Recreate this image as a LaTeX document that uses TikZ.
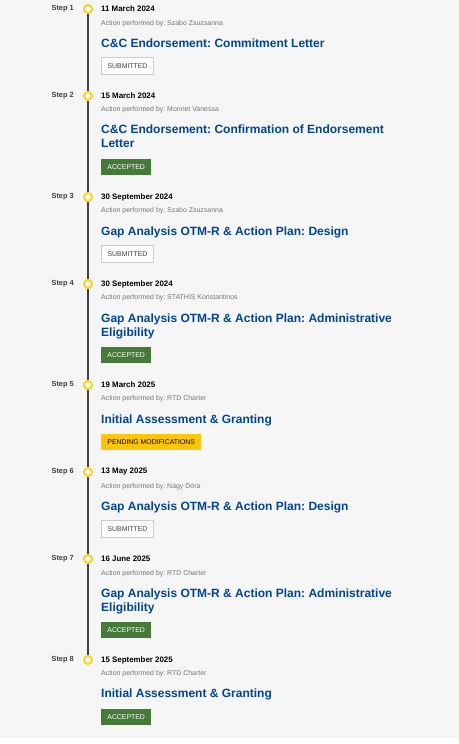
\documentclass[tikz,border=0pt]{standalone}
\usepackage{fontspec}
\setmainfont{Liberation Sans}
\usetikzlibrary{positioning,backgrounds}
\frenchspacing

\definecolor{pagebg}{HTML}{F6F6F6}
\definecolor{linegray}{HTML}{404040}
\definecolor{ringyellow}{HTML}{FFD21F}
\definecolor{eublue}{HTML}{004494}
\definecolor{okgreen}{HTML}{467A39}
\definecolor{pendyellow}{HTML}{FFC60A}
\definecolor{actgray}{HTML}{767676}

\begin{document}
\begin{tikzpicture}[x=1pt, y=-1pt,
  steplabel/.style={anchor=east, inner sep=0pt, text=linegray, font=\fontsize{7.4}{9}\selectfont\bfseries},
  dot/.style={circle, draw=ringyellow, line width=2pt, fill=white, minimum size=8pt, inner sep=0pt},
  date/.style={anchor=west, inner sep=0pt, font=\fontsize{7.9}{9}\selectfont\bfseries},
  actor/.style={anchor=west, inner sep=0pt, text=actgray, font=\fontsize{6.95}{8}\selectfont},
  title/.style={anchor=west, inner sep=0pt, align=left, text=eublue, text height=8.6pt, text depth=0pt, font=\fontsize{12}{14}\selectfont\bfseries},
  badge/.style={anchor=west, minimum height=16.5pt, inner xsep=6.2pt, inner ysep=0pt, font=\fontsize{6.9}{8}\selectfont},
  submitted/.style={badge, draw={rgb,255:red,204;green,204;blue,204}, line width=0.8pt, fill=white, text=linegray},
  accepted/.style={badge, fill=okgreen, text=white},
  pending/.style={badge, fill=pendyellow, text=black},
  timeline/.style={linegray, line width=2.6pt}
]
\useasboundingbox (0,0) rectangle (458,744);

% Step 1
\node[steplabel] (label1) at (74,9) {Step 1};
\node[dot] (dot1) at (88,9) {};
\node[date] (date1) at (101,9) {11 March 2024};
\node[actor] (actor1) at (101,24) {Action performed by: Szabo Zsuzsanna};
\node[title] (title1) at (101,43) {C\&C Endorsement: Commitment Letter};
\node[submitted] (badge1) at (101,66) {SUBMITTED};

% Step 2
\node[steplabel] (label2) at (74,96) {Step 2};
\node[dot] (dot2) at (88,96) {};
\node[date] (date2) at (101,96) {15 March 2024};
\node[actor] (actor2) at (101,110) {Action performed by: Monnet Vanessa};
\node[title, text height=22.6pt] (title2) at (101,136) {C\&C Endorsement: Confirmation of Endorsement\\Letter};
\node[accepted] (badge2) at (101,167) {ACCEPTED};

% Step 3
\node[steplabel] (label3) at (74,197) {Step 3};
\node[dot] (dot3) at (88,197) {};
\node[date] (date3) at (101,197) {30 September 2024};
\node[actor] (actor3) at (101,211) {Action performed by: Szabo Zsuzsanna};
\node[title] (title3) at (101,231) {Gap Analysis OTM-R \& Action Plan: Design};
\node[submitted] (badge3) at (101,254) {SUBMITTED};

% Step 4
\node[steplabel] (label4) at (74,284) {Step 4};
\node[dot] (dot4) at (88,284) {};
\node[date] (date4) at (101,284) {30 September 2024};
\node[actor] (actor4) at (101,298) {Action performed by: STATHIS Konstantinos};
\node[title, text height=22.6pt] (title4) at (101,325) {Gap Analysis OTM-R \& Action Plan: Administrative\\Eligibility};
\node[accepted] (badge4) at (101,355) {ACCEPTED};

% Step 5
\node[steplabel] (label5) at (74,385) {Step 5};
\node[dot] (dot5) at (88,385) {};
\node[date] (date5) at (101,385) {19 March 2025};
\node[actor] (actor5) at (101,399) {Action performed by: RTD Charter};
\node[title] (title5) at (101,419) {Initial Assessment \& Granting};
\node[pending] (badge5) at (101,442) {PENDING MODIFICATIONS};

% Step 6
\node[steplabel] (label6) at (74,472) {Step 6};
\node[dot] (dot6) at (88,472) {};
\node[date] (date6) at (101,472) {13 May 2025};
\node[actor] (actor6) at (101,487) {Action performed by: Nagy Dóra};
\node[title] (title6) at (101,506) {Gap Analysis OTM-R \& Action Plan: Design};
\node[submitted] (badge6) at (101,529) {SUBMITTED};

% Step 7
\node[steplabel] (label7) at (74,559) {Step 7};
\node[dot] (dot7) at (88,559) {};
\node[date] (date7) at (101,559) {16 June 2025};
\node[actor] (actor7) at (101,574) {Action performed by: RTD Charter};
\node[title, text height=22.6pt] (title7) at (101,600) {Gap Analysis OTM-R \& Action Plan: Administrative\\Eligibility};
\node[accepted] (badge7) at (101,630) {ACCEPTED};

% Step 8
\node[steplabel] (label8) at (74,660) {Step 8};
\node[dot] (dot8) at (88,660) {};
\node[date] (date8) at (101,660) {15 September 2025};
\node[actor] (actor8) at (101,674) {Action performed by: RTD Charter};
\node[title] (title8) at (101,693) {Initial Assessment \& Granting};
\node[accepted] (badge8) at (101,717) {ACCEPTED};

% Page and timeline
\begin{scope}[on background layer]
\fill[pagebg] (0,0) rectangle (458,738);
\fill[white] (0,738) rectangle (458,744);
\draw[timeline] (dot1) -- (dot8);
\end{scope}

\end{tikzpicture}
\end{document}
